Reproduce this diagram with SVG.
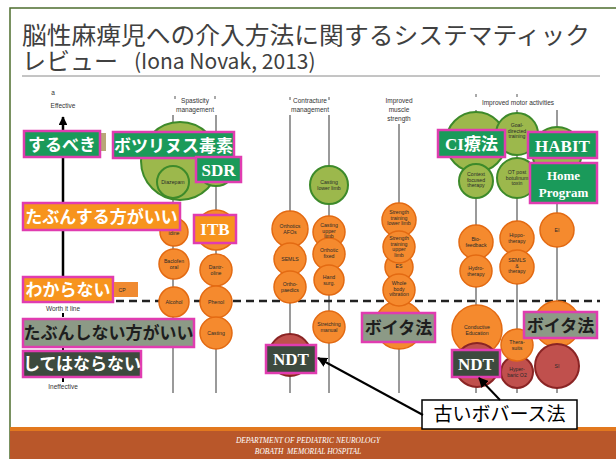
<svg xmlns="http://www.w3.org/2000/svg" width="616" height="459" viewBox="0 0 616 459">
<defs>
<marker id="ah" viewBox="0 0 10 10" refX="9" refY="5" markerWidth="5" markerHeight="5" orient="auto"><path d="M0,0 L10,5 L0,10 z" fill="#000"/></marker>
<marker id="ax" viewBox="0 0 10 10" refX="9" refY="5" markerWidth="3.5" markerHeight="3.5" orient="auto"><path d="M0,0 L10,5 L0,10 z" fill="#000"/></marker>
<style>
.vl{stroke:#9a9a9a;stroke-width:2;fill:none}
.tk{stroke:#555;stroke-width:1;fill:none}
.o{fill:#f58a2e;stroke:#e36a12;stroke-width:1.5}
.g{fill:#9cb84c;stroke:#3d8a2a;stroke-width:2}
.r{fill:#c0504d;stroke:#8a2424;stroke-width:2}
.ct{font-family:"Liberation Sans",Arial,sans-serif;font-size:5.2px;fill:#2a2a2a;text-anchor:middle}
.hd{font-family:"Liberation Sans",Arial,sans-serif;font-size:6.5px;fill:#333;text-anchor:middle}
.box{stroke:#e03cb0;stroke-width:2.5}
.jb{font-family:"Noto Sans CJK JP","Noto Sans",sans-serif;font-weight:bold;font-size:17px;text-anchor:middle}
.sb{font-family:"Liberation Serif","Noto Sans CJK JP",serif;font-weight:bold;text-anchor:middle;fill:#fff}
.tt{font-family:"Noto Sans CJK JP","Noto Sans",sans-serif;fill:#404040}
.gr{fill:#1a9a5a}
.or{fill:#f7941d}
.gy{fill:#8c9a86}
.dk{fill:#3d4a3e}
</style>
</defs>
<rect width="616" height="459" fill="#fff"/>
<!-- frame -->
<path d="M10,459 V8 H616" fill="none" stroke="#4e6e2e" stroke-width="1.5"/>
<!-- title -->
<g id="title">
<text class="tt" x="22" y="44" font-size="24" textLength="568" lengthAdjust="spacingAndGlyphs">脳性麻痺児への介入方法に関するシステマティック</text>
<text class="tt" x="22" y="70" font-size="24">レビュー</text>
<text class="tt" x="134" y="69" font-size="21">(Iona Novak, 2013)</text>
<line x1="22" y1="76" x2="600" y2="76" stroke="#8a8a8a" stroke-width="1"/>
</g>
<!-- footer -->
<g id="footer">
<rect x="10" y="427" width="606" height="32" fill="#b9572a"/>
<rect x="10" y="427" width="606" height="4" fill="#e2781e"/>
<text x="308" y="443" font-family="Liberation Serif, serif" font-style="italic" font-size="7.5" fill="#fff" text-anchor="middle">DEPARTMENT OF PEDIATRIC NEUROLOGY</text>
<text x="308" y="454" font-family="Liberation Serif, serif" font-style="italic" font-size="7.5" fill="#fff" text-anchor="middle" xml:space="preserve">BOBATH  MEMORIAL HOSPITAL</text>
</g>
<!-- grid lines and headers -->
<g id="gridlines">
<line class="vl" x1="173" y1="115" x2="173" y2="393"/>
<line class="vl" x1="216" y1="115" x2="216" y2="393"/>
<line class="vl" x1="290" y1="115" x2="290" y2="393"/>
<line class="vl" x1="329" y1="115" x2="329" y2="393"/>
<line class="vl" x1="399" y1="124" x2="399" y2="393"/>
<line class="vl" x1="476" y1="110" x2="476" y2="393"/>
<line class="vl" x1="517" y1="110" x2="517" y2="393"/>
<line class="vl" x1="557" y1="110" x2="557" y2="393"/>
<path class="tk" d="M175,96v3 M215,96v3 M290,97v3 M329,97v3 M476,94v3 M517,94v3"/>
<text class="hd" x="195" y="103">Spasticity</text>
<text class="hd" x="195" y="112">management</text>
<text class="hd" x="310" y="103">Contracture</text>
<text class="hd" x="310" y="112">management</text>
<text class="hd" x="399" y="103">Improved</text>
<text class="hd" x="399" y="112">muscle</text>
<text class="hd" x="399" y="121">strength</text>
<text class="hd" x="518" y="105">Improved motor activities</text>
</g>
<!-- axis -->
<g id="axis">
<line x1="63" y1="300" x2="63" y2="117" stroke="#000" stroke-width="2.5" marker-end="url(#ax)"/>
<path d="M63,313v4 M63,346v4 M63,378v4" stroke="#000" stroke-width="2"/>
<text class="hd" x="53" y="95" font-size="6">a</text>
<text class="hd" x="63" y="108">Effective</text>
<text class="hd" x="63" y="311">Worth it line</text>
<text class="hd" x="63" y="389">Ineffective</text>
</g>
<!-- worth-it dashed line -->
<line id="worth-line" x1="116" y1="301" x2="600" y2="301" stroke="#222" stroke-width="2.5" stroke-dasharray="8 5"/>
<!-- spasticity column -->
<g id="spasticity">
<circle class="g" cx="180" cy="161" r="39"/>
<circle class="g" cx="216" cy="167" r="19"/>
<circle class="g" cx="173" cy="182" r="16"/>
<text class="ct" x="173" y="184">Diazepam</text>
<circle class="o" cx="174" cy="232" r="14"/>
<text class="ct" x="174" y="235">idine</text>
<circle class="o" cx="174" cy="264" r="15"/>
<text class="ct" x="174" y="263">Baclofen<tspan x="174" dy="6">oral</tspan></text>
<circle class="o" cx="174" cy="302" r="15"/>
<text class="ct" x="174" y="304">Alcohol</text>
<circle class="o" cx="216" cy="230" r="20"/>
<circle class="o" cx="216" cy="270" r="16"/>
<text class="ct" x="216" y="269">Dantr-<tspan x="216" dy="6">oline</tspan></text>
<circle class="o" cx="216" cy="302" r="16"/>
<text class="ct" x="216" y="304">Phenol</text>
<circle class="o" cx="216" cy="333" r="16"/>
<text class="ct" x="216" y="335">Casting</text>
</g>
<!-- contracture column -->
<g id="contracture">
<circle class="o" cx="290" cy="229" r="18"/>
<text class="ct" x="290" y="228">Orthotics<tspan x="290" dy="6">AFOs</tspan></text>
<circle class="o" cx="290" cy="259" r="16"/>
<text class="ct" x="290" y="261">SEMLS</text>
<circle class="o" cx="290" cy="287" r="16"/>
<text class="ct" x="290" y="286">Ortho-<tspan x="290" dy="6">paedics</tspan></text>
<circle class="r" cx="290" cy="355" r="21"/>
<circle class="g" cx="329" cy="185" r="19"/>
<text class="ct" x="329" y="184">Casting<tspan x="329" dy="6">lower limb</tspan></text>
<circle class="o" cx="329" cy="232" r="16"/>
<circle class="o" cx="329" cy="254" r="16"/>
<circle class="o" cx="329" cy="280" r="15"/>
<text class="ct" x="329" y="227">Casting<tspan x="329" dy="5.5">upper</tspan><tspan x="329" dy="5.5">limb</tspan></text>
<text class="ct" x="329" y="252">Orthotic<tspan x="329" dy="6">fixed</tspan></text>
<text class="ct" x="329" y="279">Hand<tspan x="329" dy="6">surg.</tspan></text>
<circle class="o" cx="329" cy="327" r="16"/>
<text class="ct" x="329" y="326">Stretching<tspan x="329" dy="6">manual</tspan></text>
</g>
<!-- strength column -->
<g id="strength">
<circle class="o" cx="399" cy="325" r="24"/>
<circle class="o" cx="399" cy="220" r="17"/>
<text class="ct" x="399" y="214">Strength<tspan x="399" dy="5.5">training</tspan><tspan x="399" dy="5.5">lower limb</tspan></text>
<circle class="o" cx="399" cy="267" r="14"/>
<circle class="o" cx="399" cy="247" r="16"/>
<text class="ct" x="399" y="240">Strength<tspan x="399" dy="5.5">training</tspan><tspan x="399" dy="5.5">upper</tspan><tspan x="399" dy="5.5">limb</tspan></text>
<text class="ct" x="399" y="268">ES</text>
<circle class="o" cx="399" cy="290" r="16"/>
<text class="ct" x="399" y="285">Whole<tspan x="399" dy="5.5">body</tspan><tspan x="399" dy="5.5">vibration</tspan></text>
</g>
<!-- motor column -->
<g id="motor">
<circle class="g" cx="557" cy="152" r="25"/>
<circle class="g" cx="476" cy="142" r="30"/>
<circle class="g" cx="517" cy="134" r="21"/>
<text class="ct" x="517" y="127">Goal-<tspan x="517" dy="5.5">directed</tspan><tspan x="517" dy="5.5">training</tspan></text>
<circle class="g" cx="476" cy="181" r="17"/>
<text class="ct" x="476" y="176">Context<tspan x="476" dy="5.5">focused</tspan><tspan x="476" dy="5.5">therapy</tspan></text>
<circle class="g" cx="517" cy="178" r="20"/>
<text class="ct" x="517" y="174">OT post<tspan x="517" dy="5.5">botulinum</tspan><tspan x="517" dy="5.5">toxin</tspan></text>
<circle class="o" cx="476" cy="242" r="17"/>
<text class="ct" x="476" y="241">Bio-<tspan x="476" dy="6">feedback</tspan></text>
<circle class="o" cx="476" cy="271" r="16"/>
<text class="ct" x="476" y="270">Hydro-<tspan x="476" dy="6">therapy</tspan></text>
<circle class="o" cx="517" cy="238" r="17"/>
<text class="ct" x="517" y="237">Hippo-<tspan x="517" dy="6">therapy</tspan></text>
<circle class="o" cx="517" cy="267" r="17"/>
<text class="ct" x="517" y="262">SEMLS<tspan x="517" dy="5.5">&amp;</tspan><tspan x="517" dy="5.5">therapy</tspan></text>
<circle class="o" cx="557" cy="230" r="17"/>
<text class="ct" x="557" y="232">EI</text>
<circle class="o" cx="477" cy="330" r="25"/>
<text class="ct" x="477" y="329">Conductive<tspan x="477" dy="6">Education</tspan></text>
<circle class="r" cx="477" cy="365" r="22"/>
<circle class="o" cx="557" cy="324" r="23"/>
<circle class="r" cx="517" cy="372" r="16"/>
<text class="ct" x="517" y="371">Hyper-<tspan x="517" dy="6">baric O2</tspan></text>
<circle class="o" cx="517" cy="345" r="16"/>
<text class="ct" x="517" y="344">Thera-<tspan x="517" dy="6">suits</tspan></text>
<circle class="r" cx="557" cy="366" r="22"/>
<text class="ct" x="557" y="368">SI</text>
</g>
<!-- left rating labels -->
<g id="should">
<rect x="101" y="133" width="5" height="18" fill="#b8a878"/>
<rect class="box gr" x="24" y="131" width="76" height="26"/>
<text class="jb" x="62" y="151" fill="#fff" font-size="18">するべき</text>
</g>
<g id="probably-should">
<rect class="box or" x="23" y="203" width="157" height="27"/>
<text class="jb" x="101.5" y="223" fill="#fff">たぶんする方がいい</text>
</g>
<g id="unknown">
<rect class="box or" x="23" y="277" width="90" height="25"/>
<text class="jb" x="68" y="296" fill="#fff">わからない</text>
<rect x="114" y="282" width="24" height="15" fill="#f08a30"/>
<text class="ct" x="122" y="292" font-size="6">CP</text>
</g>
<g id="probably-not">
<rect class="box gy" x="23" y="319" width="171" height="28"/>
<text class="jb" x="108.5" y="339" fill="#1e1e1e">たぶんしない方がいい</text>
</g>
<g id="must-not">
<rect class="box dk" x="23" y="351" width="118" height="26"/>
<text class="jb" x="82" y="370" fill="#fff">してはならない</text>
</g>
<!-- intervention labels -->
<g id="botox">
<rect class="box gr" x="113" y="132" width="121" height="26"/>
<text class="jb" x="173.5" y="152" fill="#fff">ボツリヌス毒素</text>
</g>
<g id="sdr">
<rect class="box gr" x="196" y="157" width="45" height="25"/>
<text class="sb" x="218.5" y="176" font-size="17">SDR</text>
</g>
<g id="itb">
<rect class="box or" x="194" y="215" width="42" height="28"/>
<text class="sb" x="215" y="235" font-size="17">ITB</text>
</g>
<g id="ndt-1">
<rect class="box dk" x="266" y="345" width="50" height="28"/>
<text class="sb" x="291" y="365" font-size="17" font-weight="normal">NDT</text>
</g>
<g id="vojta-1">
<rect class="box gy" x="362" y="313" width="73" height="29"/>
<text class="jb" x="398.5" y="334" fill="#1e1e1e">ボイタ法</text>
</g>
<g id="ci">
<rect class="box gr" x="438" y="130" width="67" height="27"/>
<text class="sb" x="471.5" y="150" font-size="17">CI療法</text>
</g>
<g id="habit">
<rect class="box gr" x="528" y="132" width="69" height="26"/>
<text class="sb" x="562.5" y="152" font-size="17">HABIT</text>
</g>
<g id="home-program">
<rect class="box gr" x="530" y="163" width="67" height="40"/>
<text class="sb" x="563.5" y="180" font-size="13">Home</text>
<text class="sb" x="563.5" y="197" font-size="13">Program</text>
</g>
<g id="ndt-2">
<rect class="box dk" x="452" y="350" width="48" height="27"/>
<text class="sb" x="476" y="369.5" font-size="17" font-weight="normal">NDT</text>
</g>
<g id="vojta-2">
<rect class="box gy" x="524" y="312" width="73" height="26"/>
<text class="jb" x="560.5" y="332" fill="#1e1e1e">ボイタ法</text>
</g>
<g id="old-bobath">
<rect x="422" y="400" width="155" height="29" fill="#fff" stroke="#000" stroke-width="1.5"/>
<text x="499.5" y="421" font-family="Noto Sans CJK JP, sans-serif" font-size="19" text-anchor="middle" fill="#000">古いボバース法</text>
</g>
<g id="connectors">
<line x1="423" y1="415" x2="318" y2="358" stroke="#000" stroke-width="2" marker-end="url(#ah)"/>
<line x1="500" y1="400" x2="479" y2="378" stroke="#000" stroke-width="2" marker-end="url(#ah)"/>
</g>
</svg>
